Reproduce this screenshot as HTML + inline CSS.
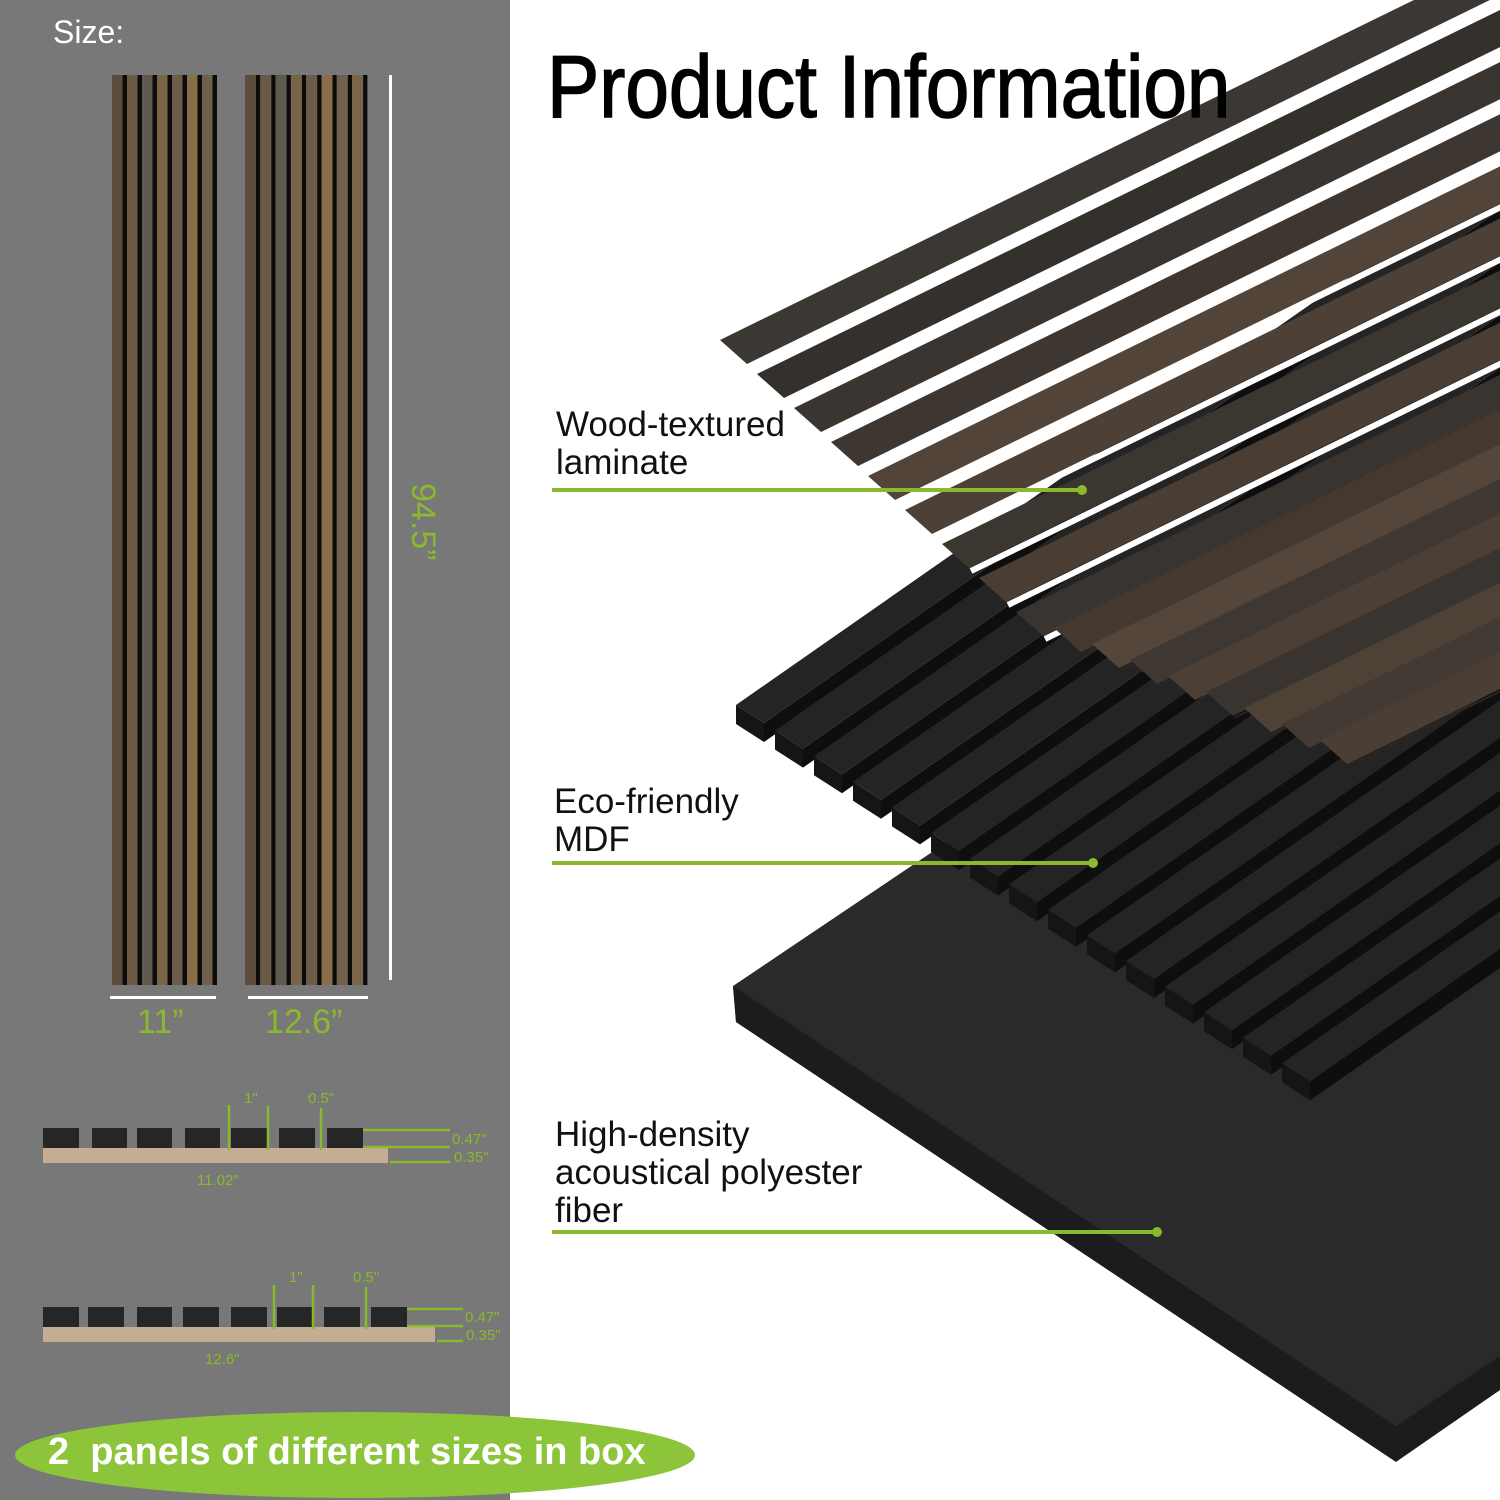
<!DOCTYPE html>
<html><head><meta charset="utf-8">
<style>
html,body{margin:0;padding:0;}
body{width:1500px;height:1500px;position:relative;overflow:hidden;background:#fff;font-family:"Liberation Sans",sans-serif;}
.t{position:absolute;white-space:nowrap;}
</style></head><body>
<svg id="s" width="1500" height="1500" style="position:absolute;left:0;top:0" xmlns="http://www.w3.org/2000/svg">
<rect x="0" y="0" width="510" height="1500" fill="#787878"/>
<g id="right"></g>
<g id="left"></g>
</svg>

<div class="t" style="left:53px;top:14px;font-size:32px;color:#fff;">Size:</div>
<div class="t" style="left:547px;top:36px;font-size:88px;color:#000;transform:scaleX(0.89);transform-origin:0 0;-webkit-text-stroke:1.5px #000;">Product Information</div>

<div class="t" style="left:556px;top:406px;font-size:35px;line-height:38px;color:#111;">Wood-textured<br>laminate</div>
<div class="t" style="left:554px;top:783px;font-size:35px;line-height:38px;color:#111;">Eco-friendly<br>MDF</div>
<div class="t" style="left:555px;top:1116px;font-size:35px;line-height:38px;color:#111;">High-density<br>acoustical polyester<br>fiber</div>

<div class="t" style="left:137px;top:1003px;font-size:34px;color:#8ab82e;">11”</div>
<div class="t" style="left:265px;top:1003px;font-size:34px;color:#8ab82e;">12.6”</div>
<div class="t" style="top:483px;font-size:34px;color:#8ab82e;transform:rotate(90deg);transform-origin:0 0;left:442px;">94.5”</div>

<div style="position:absolute;left:15px;top:1412px;width:680px;height:86px;border-radius:50%;background:#8cc43a;"></div>
<div class="t" style="left:48px;top:1431px;font-size:38px;font-weight:bold;color:#fff;">2&nbsp; panels of different sizes in box</div>

<script>
var NS="http://www.w3.org/2000/svg";
function el(g,tag,a){var e=document.createElementNS(NS,tag);for(var k in a)e.setAttribute(k,a[k]);g.appendChild(e);return e;}
function poly(g,pts,fill){el(g,"polygon",{points:pts.map(function(p){return p[0].toFixed(1)+","+p[1].toFixed(1)}).join(" "),fill:fill});}
function add(a,b,s){s=s||1;return [a[0]+b[0]*s,a[1]+b[1]*s];}
var R=document.getElementById("right"),L=document.getElementById("left");

// base board
poly(R,[[733,986],[1500,470],[1500,1390],[1396,1460],[736,1022]],"#2a2a2a");
poly(R,[[733,986],[1396,1426],[1500,1356],[1500,1390],[1396,1462],[736,1022]],"#1c1c1c");

// black MDF bars
var d2=[0.82,-0.572],w2=[28,18],h2=[0,19],Ln=1300;
for(var i=0;i<15;i++){
  var A=[736+i*39,705+i*25.6];
  var B=add(A,w2);
  var A2=add(A,d2,Ln),B2=add(B,d2,Ln);
  poly(R,[B,B2,add(B2,h2),add(B,h2)],"#0e0e0e");
  poly(R,[A,B,B2,A2],"#242424");
  poly(R,[A,B,add(B,h2),add(A,h2)],"#151515");
}

// wood slats
var d=[0.898,-0.44],w=[27,24],Lw=1500;
var cols=["#3b3733","#34302c","#3a3530","#3e3630","#524438","#4d4036","#3c3631","#4a3d33","#393430","#45392f","#54463a","#3f3731","#4c3f35","#3a3431","#4e4136","#433a33","#4a3e35"];
var p=[720,340];
for(var i=0;i<17;i++){
  var A=p,B=add(A,w);
  poly(R,[A,B,add(B,d,Lw),add(A,d,Lw)],cols[i]);
  if(i<9) el(R,"line",{x1:B[0]+2,y1:B[1]+3,x2:B[0]+2+d[0]*Lw,y2:B[1]+3+d[1]*Lw,stroke:"#fff","stroke-width":6});
  else el(R,"line",{x1:B[0]+1,y1:B[1]+2,x2:B[0]+1+d[0]*Lw,y2:B[1]+2+d[1]*Lw,stroke:"#2a2622","stroke-width":2});
  p = i<8 ? add(p,[37,34]) : add(p,[38,16]);
}

// green leader lines
var G="#8ab92d";
[[552,1082,490],[552,1093,863],[552,1157,1232]].forEach(function(l){
  el(R,"line",{x1:l[0],y1:l[2],x2:l[1],y2:l[2],stroke:G,"stroke-width":4});
  el(R,"circle",{cx:l[1],cy:l[2],r:5,fill:G});
});

// left panels
function panel(x0,n,sw,bw){
  var x=x0;
  var wc=["#5b4c3b","#6a5a45","#5e5a4e","#7a6448","#6b5d4a","#8a6e4a","#6f5f4c","#7b6548"];
  for(var i=0;i<n;i++){
    el(L,"rect",{x:x,y:75,width:sw,height:910,fill:wc[i%wc.length]});
    x+=sw;
    el(L,"rect",{x:x,y:75,width:bw,height:910,fill:"#0c0c0c"});
    x+=bw;
  }
}
panel(112,7,10.5,4.5);
panel(245,8,11,4.3);
el(L,"rect",{x:389,y:75,width:3,height:905,fill:"#fff"});
el(L,"rect",{x:110,y:996,width:106,height:3,fill:"#fff"});
el(L,"rect",{x:248,y:996,width:120,height:3,fill:"#fff"});

// cross sections
function section(y0,blocks,baseEnd,verts,lineEnd,labs){
  el(L,"rect",{x:43,y:y0+20,width:baseEnd-43,height:15,fill:"#c4ad92"});
  blocks.forEach(function(b){el(L,"rect",{x:b[0],y:y0,width:b[1]-b[0],height:20,fill:"#262626"});});
  verts.forEach(function(v){el(L,"line",{x1:v[0],y1:v[1],x2:v[0],y2:y0+22,stroke:G,"stroke-width":2.5});});
  var xs=blocks[blocks.length-1][1];
  el(L,"line",{x1:xs,y1:y0+2,x2:lineEnd,y2:y0+2,stroke:G,"stroke-width":2.5});
  el(L,"line",{x1:xs,y1:y0+19,x2:lineEnd,y2:y0+19,stroke:G,"stroke-width":2.5});
  el(L,"line",{x1:baseEnd+2,y1:y0+34,x2:lineEnd,y2:y0+34,stroke:G,"stroke-width":2.5});
  labs.forEach(function(t){var e=el(L,"text",{x:t[0],y:t[1],fill:G,"font-size":t[3]||15,"font-family":"Liberation Sans, sans-serif"});e.textContent=t[2];});
}
section(1128,[[43,79],[92,127],[137,172],[185,220],[231,267],[279,315],[327,363]],388,[[229,1105],[268,1106],[321,1108]],450,
 [[244,1103,"1\""],[308,1103,"0.5\""],[452,1144,"0.47\""],[454,1162,"0.35\""],[197,1185,"11.02\""]]);
section(1307,[[43,79],[88,124],[137,172],[183,219],[231,267],[277,313],[324,360],[371,407]],435,[[274,1285],[313,1285],[366,1287]],463,
 [[289,1282,"1\""],[353,1282,"0.5\""],[465,1322,"0.47\""],[466,1340,"0.35\""],[205,1364,"12.6\""]]);
</script>
</body></html>
